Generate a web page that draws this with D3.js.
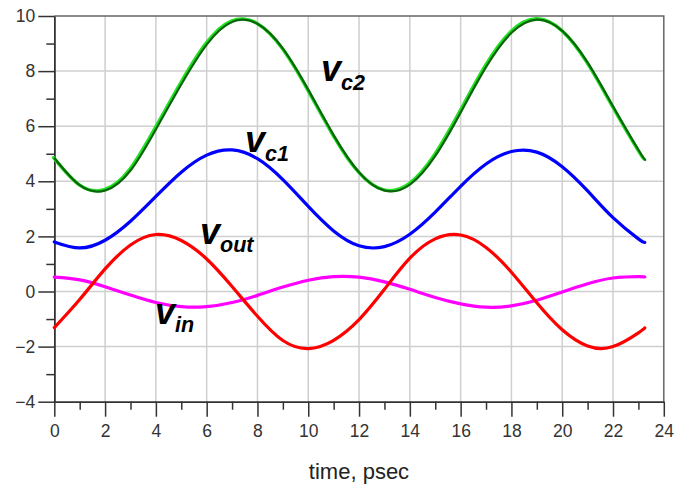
<!DOCTYPE html>
<html>
<head>
<meta charset="utf-8">
<script src="https://cdn.jsdelivr.net/npm/d3@7"></script>
<style>
  body { margin: 0; background: #fff; }
  svg { font-family: "Liberation Sans", Arial, sans-serif; }
  .grid line { stroke: #cfcfcf; stroke-width: 1.5; }
</style>
</head>
<body>
<svg id="chart" width="682" height="485"></svg>
<script>
// time in psec, voltages
var time = [0, 1, 2, 3, 4, 5, 6, 7, 8, 9, 10, 11, 12, 13, 14, 15, 16, 17, 18, 19, 20, 21, 22, 23, 23.25];
var vc2  = [4.84, 3.86, 3.68, 4.42, 5.92, 7.55, 8.99, 9.80, 9.72, 8.81, 7.31, 5.66, 4.32, 3.67, 3.90, 4.95, 6.53, 8.18, 9.41, 9.88, 9.46, 8.30, 6.71, 5.13, 4.79];
var vc1  = [1.80, 1.58, 1.86, 2.55, 3.45, 4.33, 4.95, 5.14, 4.82, 4.06, 3.09, 2.20, 1.66, 1.63, 2.08, 2.88, 3.82, 4.63, 5.08, 5.06, 4.53, 3.65, 2.68, 1.91, 1.78];
var vout = [-1.31, -0.29, 0.82, 1.69, 2.07, 1.85, 1.18, 0.18, -0.90, -1.78, -2.07, -1.77, -1.02, 0.08, 1.21, 1.91, 2.05, 1.60, 0.70, -0.41, -1.39, -1.98, -2.00, -1.50, -1.32];
var vin  = [0.52, 0.42, 0.17, -0.13, -0.40, -0.55, -0.55, -0.40, -0.14, 0.16, 0.41, 0.54, 0.52, 0.35, 0.08, -0.22, -0.45, -0.57, -0.52, -0.32, -0.02, 0.28, 0.49, 0.54, 0.53];

var xMajor = [0, 2, 4, 6, 8, 10, 12, 14, 16, 18, 20, 22, 24];
var xMinor = [1, 3, 5, 7, 9, 11, 13, 15, 17, 19, 21, 23];
var yMajor = [-4, -2, 0, 2, 4, 6, 8, 10];
var yMinor = [-3, -1, 1, 3, 5, 7, 9];

var svg = d3.select("#chart");
var pLeft = 54.3, pRight = 663.8, pTop = 16, pBottom = 401.7;

var x = d3.scaleLinear().domain([0, 24]).range([pLeft, pRight]);
var y = d3.scaleLinear().domain([-4, 10]).range([pBottom, pTop]);

// grid
var grid = svg.append("g").attr("class", "grid");
grid.selectAll(".gx").data(xMajor.slice(1, -1)).enter().append("line")
  .attr("x1", function(d) { return x(d); }).attr("x2", function(d) { return x(d); })
  .attr("y1", pTop).attr("y2", pBottom);
grid.selectAll(".gy").data(yMajor.slice(1, -1)).enter().append("line")
  .attr("x1", pLeft).attr("x2", pRight)
  .attr("y1", function(d) { return y(d); }).attr("y2", function(d) { return y(d); });

// frame top and right
svg.append("path")
  .attr("d", "M" + pLeft + "," + pTop + "H" + pRight + "V" + pBottom)
  .attr("fill", "none").attr("stroke", "#666").attr("stroke-width", 1.5);

// axes
function styleAxis(g) {
  g.attr("font-family", null).attr("font-size", 17.5);
  g.select(".domain").attr("stroke", "#333").attr("stroke-width", 1.5);
  g.selectAll(".tick line").attr("stroke", "#333").attr("stroke-width", 1.5);
  g.selectAll(".tick text").attr("fill", "#333");
}
svg.append("g").attr("transform", "translate(" + pLeft + ",0)")
  .call(d3.axisLeft(y).tickValues(yMinor).tickSize(8).tickFormat("").tickSizeOuter(0))
  .call(styleAxis);
svg.append("g").attr("transform", "translate(" + pLeft + ",0)")
  .call(d3.axisLeft(y).tickValues(yMajor).tickSize(16).tickPadding(3).tickSizeOuter(0))
  .call(styleAxis);
svg.append("g").attr("transform", "translate(0," + pBottom + ")")
  .call(d3.axisBottom(x).tickValues(xMinor).tickSize(8).tickFormat("").tickSizeOuter(0))
  .call(styleAxis);
svg.append("g").attr("transform", "translate(0," + pBottom + ")")
  .call(d3.axisBottom(x).tickValues(xMajor).tickSize(15).tickPadding(8).tickSizeOuter(0))
  .call(styleAxis);

// curves
function line(vals) {
  return d3.line()
    .x(function(d, i) { return x(time[i]); })
    .y(function(d) { return y(d); })
    .curve(d3.curveNatural)(vals);
}
function trace(vals, color, w, dx, dy) {
  svg.append("path")
    .attr("d", line(vals))
    .attr("fill", "none")
    .attr("stroke", color)
    .attr("stroke-width", w)
    .attr("stroke-linecap", "round")
    .attr("transform", "translate(" + (dx || 0) + "," + (dy || 0) + ")");
}
trace(vin, "#ff00ff", 3.2);
trace(vout, "#ff0000", 3.2);
trace(vc1, "#0000ff", 3.2);
trace(vc2, "#22e022", 3.4, -0.7, -0.5);
trace(vc2, "#0a640a", 2.2, 0.4, 0.3);

// labels
var labels = [
  { main: "v", sub: "c2", x: 321, y: 81 },
  { main: "v", sub: "c1", x: 245, y: 152 },
  { main: "v", sub: "out", x: 200, y: 243.5 },
  { main: "v", sub: "in", x: 155, y: 323.5 }
];
labels.forEach(function(l) {
  var t = svg.append("text")
    .attr("x", l.x).attr("y", l.y)
    .attr("font-weight", "bold").attr("font-style", "italic")
    .attr("fill", "#000");
  t.append("tspan").attr("font-size", 36).text(l.main);
  t.append("tspan").attr("font-size", 21.5).attr("dy", 8.5).text(l.sub);
});

svg.append("text")
  .attr("x", 359).attr("y", 479)
  .attr("text-anchor", "middle")
  .attr("font-size", 22)
  .attr("fill", "#222")
  .text("time, psec");
</script>
</body>
</html>
